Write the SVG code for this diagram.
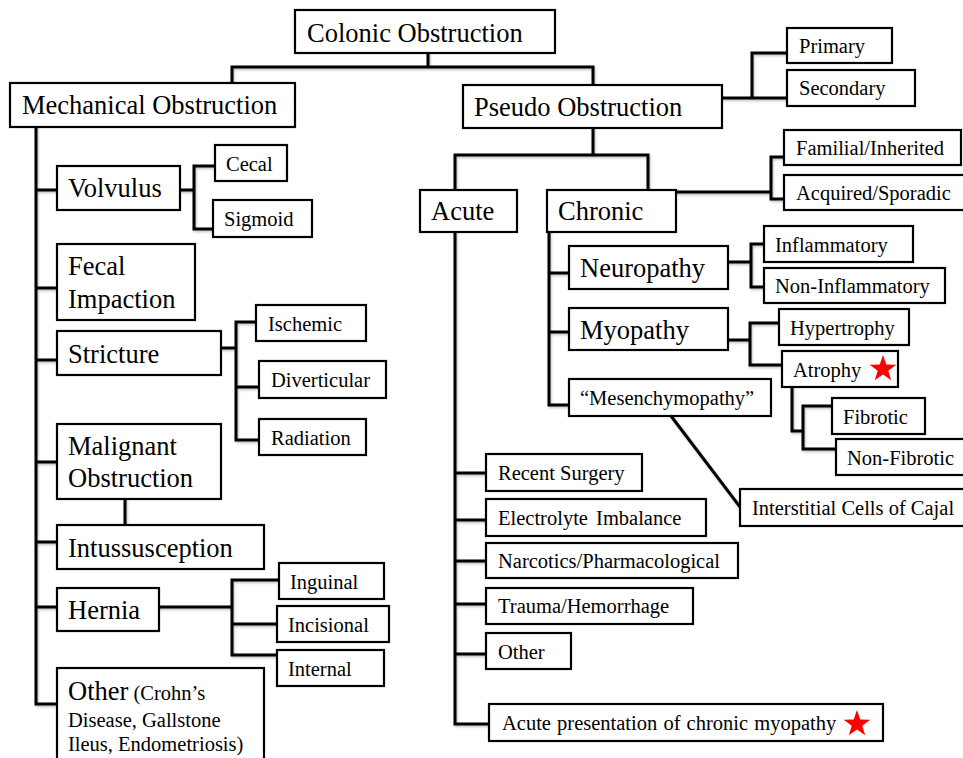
<svg xmlns="http://www.w3.org/2000/svg" width="963" height="758" viewBox="0 0 963 758">
<style>
.b{fill:#fff;stroke:#000;stroke-width:2.2}
.c{fill:none;stroke:#000;stroke-width:3;stroke-linejoin:miter;stroke-linecap:square}
text{font-family:"Liberation Serif","Times New Roman",serif;fill:#000}
.L{font-size:26.5px}
.S{font-size:20.5px}
.star{fill:#ff0000}
</style>
<defs>
<path id="star" d="M0,-14 L3.3,-4.5 L13.3,-4.3 L5.3,1.7 L8.2,11.3 L0,5.6 L-8.2,11.3 L-5.3,1.7 L-13.3,-4.3 L-3.3,-4.5 Z"/>
<filter id="sh" x="-5%" y="-5%" width="110%" height="120%">
<feDropShadow dx="1" dy="1.5" stdDeviation="1" flood-color="#000" flood-opacity="0.25"/>
</filter>
</defs>
<rect width="963" height="758" fill="#fff"/>
<g id="connectors" class="c" filter="url(#sh)">
<path d="M428,53 V67 M232,83 V67 H593 V85"/>
<path d="M722,98 H752 M787,53 H752 V98 H787"/>
<path d="M593,128 V155 M455,190 V155 H648 V190"/>
<path d="M676,192 H771 M784,157 H771 V199 H784"/>
<path d="M36,127 V704 H57 M36,190 H57 M36,288 H57 M36,360 H57 M36,462 H57 M36,542 H57 M36,607 H57"/>
<path d="M180,190 H194 M215,166 H194 V229 H213"/>
<path d="M221,348 H236 M256,322 H236 V440 H259 M236,387 H259"/>
<path d="M125,499 V525"/>
<path d="M159,607 H232 M279,580 H232 V655 H277 M232,624 H277"/>
<path d="M455,232 V724 H489 M455,473 H486 M455,520 H486 M455,561 H486 M455,604 H486 M455,654 H486"/>
<path d="M549,232 V405 H569 M549,273 H569 M549,332 H569"/>
<path d="M728,262 H751 M764,244 H751 V287 H764"/>
<path d="M728,340 H750 M779,323 H750 V365 H782"/>
<path d="M792,387 V431 H803 M832,406 H803 V449 H836"/>
<path d="M671,416 L740,507"/>
</g>
<g id="n-colonic"><rect class="b" x="295" y="10" width="260" height="43"/><text class="L" x="307" y="42">Colonic Obstruction</text></g>
<g id="n-mechanical"><rect class="b" x="10" y="83" width="285" height="44"/><text class="L" x="22" y="114">Mechanical Obstruction</text></g>
<g id="n-pseudo"><rect class="b" x="463" y="85" width="259" height="43"/><text class="L" x="474" y="116">Pseudo Obstruction</text></g>
<g id="n-primary"><rect class="b" x="787" y="28" width="105" height="35"/><text class="S" x="799" y="53">Primary</text></g>
<g id="n-secondary"><rect class="b" x="787" y="70" width="128" height="36"/><text class="S" x="799" y="95">Secondary</text></g>
<g id="n-acute"><rect class="b" x="420" y="190" width="97" height="42"/><text class="L" x="431" y="220">Acute</text></g>
<g id="n-chronic"><rect class="b" x="547" y="190" width="129" height="42"/><text class="L" x="558" y="220">Chronic</text></g>
<g id="n-familial"><rect class="b" x="784" y="130" width="177" height="35"/><text class="S" x="796" y="155">Familial/Inherited</text></g>
<g id="n-acquired"><rect class="b" x="784" y="175" width="185" height="35"/><text class="S" x="796" y="200">Acquired/Sporadic</text></g>
<g id="n-volvulus"><rect class="b" x="57" y="166" width="123" height="44"/><text class="L" x="68" y="197">Volvulus</text></g>
<g id="n-cecal"><rect class="b" x="215" y="145" width="72" height="36"/><text class="S" x="226" y="171">Cecal</text></g>
<g id="n-sigmoid"><rect class="b" x="213" y="200" width="99" height="37"/><text class="S" x="224" y="226">Sigmoid</text></g>
<g id="n-fecal"><rect class="b" x="57" y="244" width="138" height="76"/><text class="L" x="68" y="275">Fecal</text><text class="L" x="68" y="308">Impaction</text></g>
<g id="n-stricture"><rect class="b" x="57" y="331" width="164" height="44"/><text class="L" x="68" y="363">Stricture</text></g>
<g id="n-ischemic"><rect class="b" x="256" y="305" width="110" height="36"/><text class="S" x="268" y="331">Ischemic</text></g>
<g id="n-diverticular"><rect class="b" x="259" y="361" width="127" height="37"/><text class="S" x="271" y="387">Diverticular</text></g>
<g id="n-radiation"><rect class="b" x="259" y="419" width="107" height="36"/><text class="S" x="271" y="445">Radiation</text></g>
<g id="n-malignant"><rect class="b" x="57" y="424" width="164" height="75"/><text class="L" x="68" y="455">Malignant</text><text class="L" x="68" y="487">Obstruction</text></g>
<g id="n-intussusception"><rect class="b" x="57" y="525" width="207" height="44"/><text class="L" x="68" y="557">Intussusception</text></g>
<g id="n-hernia"><rect class="b" x="57" y="588" width="102" height="43"/><text class="L" x="68" y="619">Hernia</text></g>
<g id="n-inguinal"><rect class="b" x="279" y="563" width="105" height="36"/><text class="S" x="290" y="589">Inguinal</text></g>
<g id="n-incisional"><rect class="b" x="277" y="606" width="112" height="36"/><text class="S" x="288" y="632">Incisional</text></g>
<g id="n-internal"><rect class="b" x="277" y="650" width="107" height="36"/><text class="S" x="288" y="676">Internal</text></g>
<g id="n-other-mech"><rect class="b" x="57" y="668" width="207" height="100"/><text x="68" y="700"><tspan class="L">Other</tspan><tspan class="S"> (Crohn’s</tspan></text><text class="S" x="68" y="727">Disease, Gallstone</text><text class="S" x="68" y="751">Ileus, Endometriosis)</text></g>
<g id="n-neuropathy"><rect class="b" x="569" y="246" width="159" height="43"/><text class="L" x="580" y="277">Neuropathy</text></g>
<g id="n-inflammatory"><rect class="b" x="764" y="226" width="149" height="36"/><text class="S" x="775" y="252">Inflammatory</text></g>
<g id="n-noninflammatory"><rect class="b" x="764" y="268" width="181" height="35"/><text class="S" x="775" y="293">Non-Inflammatory</text></g>
<g id="n-myopathy"><rect class="b" x="569" y="308" width="159" height="42"/><text class="L" x="580" y="339">Myopathy</text></g>
<g id="n-hypertrophy"><rect class="b" x="779" y="309" width="130" height="36"/><text class="S" x="790" y="335">Hypertrophy</text></g>
<g id="n-atrophy"><rect class="b" x="782" y="351" width="116" height="36"/><text class="S" x="793" y="377">Atrophy</text><use href="#star" class="star" x="883" y="369"/></g>
<g id="n-fibrotic"><rect class="b" x="832" y="398" width="93" height="36"/><text class="S" x="843" y="424">Fibrotic</text></g>
<g id="n-nonfibrotic"><rect class="b" x="836" y="439" width="135" height="36"/><text class="S" x="847" y="465">Non-Fibrotic</text></g>
<g id="n-mesenchymopathy"><rect class="b" x="569" y="379" width="202" height="37"/><text class="S" x="580" y="405">“Mesenchymopathy”</text></g>
<g id="n-icc"><rect class="b" x="740" y="489" width="230" height="37"/><text class="S" x="752" y="515">Interstitial Cells of Cajal</text></g>
<g id="n-recent-surgery"><rect class="b" x="486" y="454" width="156" height="37"/><text class="S" x="498" y="480">Recent Surgery</text></g>
<g id="n-electrolyte"><rect class="b" x="486" y="499" width="220" height="37"/><text class="S" x="498" y="525" word-spacing="3">Electrolyte Imbalance</text></g>
<g id="n-narcotics"><rect class="b" x="486" y="543" width="252" height="35"/><text class="S" x="498" y="568">Narcotics/Pharmacological</text></g>
<g id="n-trauma"><rect class="b" x="486" y="588" width="207" height="36"/><text class="S" x="498" y="613">Trauma/Hemorrhage</text></g>
<g id="n-other-acute"><rect class="b" x="486" y="633" width="85" height="36"/><text class="S" x="498" y="659">Other</text></g>
<g id="n-acute-chronic"><rect class="b" x="489" y="704" width="394" height="37"/><text class="S" x="502" y="730" word-spacing="1">Acute presentation of chronic myopathy</text><use href="#star" class="star" x="857" y="724"/></g>
</svg>
